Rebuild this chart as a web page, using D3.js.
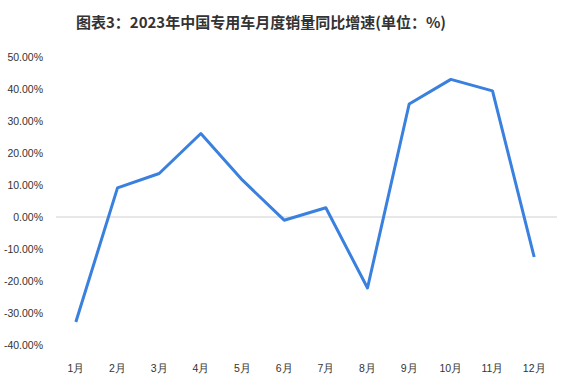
<!DOCTYPE html>
<html>
<head>
<meta charset="utf-8">
<script src="https://cdn.jsdelivr.net/npm/d3@7"></script>
<style>
  body { margin: 0; background: #fff; }
  svg { display: block; font-family: "Noto Sans CJK SC", "Liberation Sans", sans-serif; }
</style>
</head>
<body>
<script>
// data
var months = ['1月','2月','3月','4月','5月','6月','7月','8月','9月','10月','11月','12月'];
var growth = [-32.8, 9.1, 13.6, 26.1, 11.5, -1.0, 2.9, -22.2, 35.3, 43.0, 39.4, -12.5];
var yTicks = [50, 40, 30, 20, 10, 0, -10, -20, -30, -40];

var width = 570, height = 390;
var plotLeft = 55, plotRight = 555, plotTop = 57, plotBottom = 345;

var svg = d3.select('body')
  .append('svg')
  .attr('width', width)
  .attr('height', height);

svg.append('text')
  .attr('x', 261)
  .attr('y', 28)
  .attr('text-anchor', 'middle')
  .attr('font-size', 15)
  .attr('font-weight', 'bold')
  .attr('fill', '#333')
  .text('图表3：2023年中国专用车月度销量同比增速(单位：%)');

var x = d3.scaleBand()
  .domain(months)
  .range([plotLeft, plotRight]);

var y = d3.scaleLinear()
  .domain([-40, 50])
  .range([plotBottom, plotTop]);

// y labels
var yAxis = d3.axisLeft(y)
  .tickValues(yTicks)
  .tickSize(0)
  .tickPadding(0)
  .tickFormat(function(d){ return d.toFixed(2) + '%'; });

var gy = svg.append('g')
  .attr('transform', 'translate(43,0)')
  .call(yAxis);
gy.select('.domain').remove();
gy.selectAll('text')
  .attr('font-size', 10.5)
  .attr('fill', '#333')
  .attr('font-family', '"Liberation Sans", sans-serif');

// zero line
svg.append('line')
  .attr('x1', plotLeft + 1)
  .attr('x2', plotRight + 2)
  .attr('y1', y(0))
  .attr('y2', y(0))
  .attr('stroke', '#d0d0d0')
  .attr('stroke-width', 1);

// x labels
var xAxis = d3.axisBottom(x).tickSize(0).tickPadding(0);
var gx = svg.append('g')
  .attr('transform', 'translate(0,365)')
  .call(xAxis);
gx.select('.domain').remove();
gx.selectAll('text')
  .attr('font-size', 10.5)
  .attr('fill', '#333');

// line
var line = d3.line()
  .x(function(d,i){ return x(months[i]) + x.bandwidth() / 2; })
  .y(function(d){ return y(d); });

svg.append('path')
  .datum(growth)
  .attr('d', line)
  .attr('fill', 'none')
  .attr('stroke', '#3a80df')
  .attr('stroke-width', 3)
  .attr('stroke-linejoin', 'round');
</script>
</body>
</html>
